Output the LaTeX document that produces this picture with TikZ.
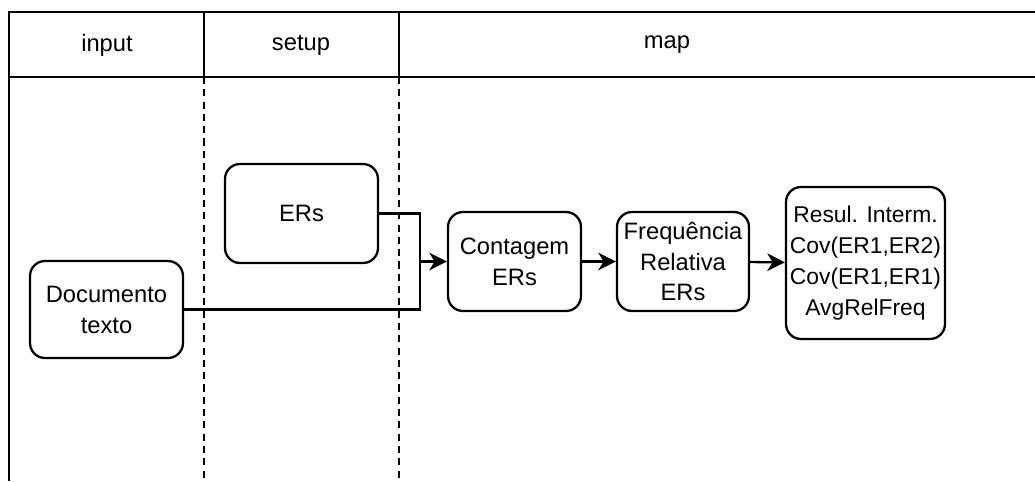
\documentclass[tikz,border=0pt]{standalone}
\usepackage{fontspec}
\setmainfont{Liberation Sans}
\usetikzlibrary{arrows.meta,positioning}
\tikzset{
  box/.style={draw,rounded corners=0.3cm,align=center,inner sep=0pt,
    font=\fontsize{13.5}{17.6}\selectfont},
  lanetitle/.style={font=\fontsize{13.5}{17}\selectfont},
  flow/.style={-{Stealth[length=10pt,width=10pt,inset=3pt]}}
}
\begin{document}
\begin{tikzpicture}[x=0.02cm,y=-0.02cm,line width=1.3pt]
\useasboundingbox (0,0) rectangle (1035,481);
\draw (9,481)--(9,12)--(1035,12) (9,77)--(1035,77); % frame
\draw (204,12)--(204,77) (399,12)--(399,77); % header separators
\draw[dash pattern=on 4pt off 3pt] (204,77)--(204,481) (399,77)--(399,481); % lane separators
\node[lanetitle] (input) at (107,45) {input}; % lane 1
\node[lanetitle] (setup) at (301,45) {setup}; % lane 2
\node[lanetitle] (map) at (667,45) {map}; % lane 3
\node[box,minimum width=3.06cm,minimum height=1.94cm] (doc) at (106.5,309.5) {Documento\\texto}; % input
\node[box,minimum width=3.06cm,minimum height=1.98cm] (ers) at (301.5,213.5) {ERs}; % setup
\node[box,minimum width=2.66cm,minimum height=1.98cm] (cont) at (514.5,261.5) {Contagem\\ERs}; % count
\node[box,minimum width=2.64cm,minimum height=1.98cm] (freq) at (683,261.5) {Frequência\\Relativa\\ERs}; % rel. freq
\node[box,minimum width=3.18cm,minimum height=3.04cm,font=\fontsize{13}{17.6}\selectfont] (res) at (865.5,263) {Resul. Interm.\\Cov(ER1,ER2)\\Cov(ER1,ER1)\\AvgRelFreq}; % results
\coordinate (join) at (420,261.5); % merge point
\draw (ers.east) -| (join); % Wiring
\draw (doc.east) -| (join); % Wiring
\draw[flow] (join) -- (cont); % Wiring
\draw[flow] (cont) -- (freq); % Wiring
\draw[flow] (freq) -- (res); % Wiring
\end{tikzpicture}
\end{document}
